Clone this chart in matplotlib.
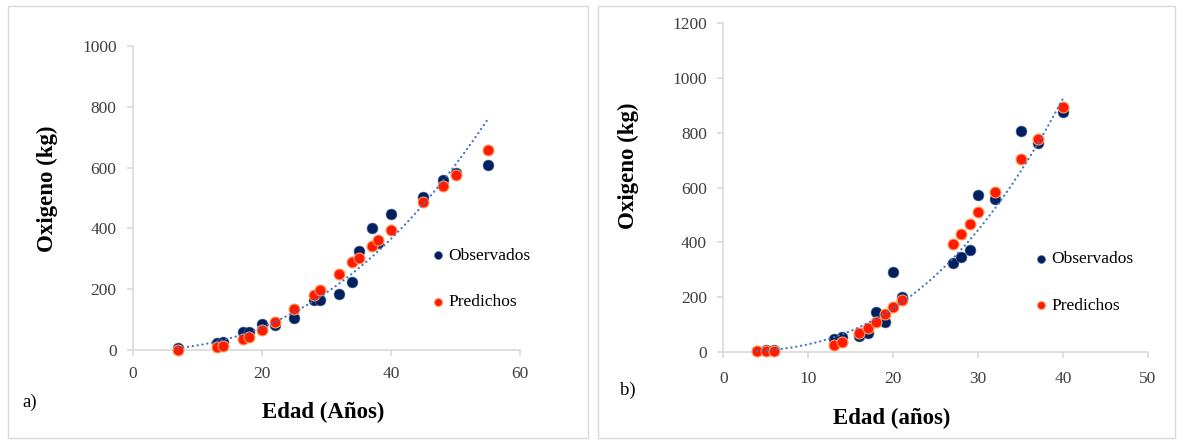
import matplotlib
matplotlib.use("Agg")
import matplotlib.pyplot as plt
import numpy as np
from matplotlib.patches import Rectangle

plt.rcParams['font.family'] = ['Liberation Serif', 'DejaVu Serif']

# Panel a) - edad (anos) vs oxigeno (kg)
edad_a = np.array([7, 13, 14, 17, 18, 20, 22, 25, 28, 29, 32, 34, 35, 37, 38, 40, 45, 48, 50, 55])
obs_a = np.array([8, 22, 27, 60, 60, 85, 82, 106, 165, 165, 185, 225, 327, 400, 351, 448, 502, 560, 582, 608])
pred_a = np.array([0, 11, 14, 35, 44, 66, 91, 134, 181, 198, 250, 289, 302, 343, 362, 395, 487, 541, 577, 658])

# Panel b)
edad_b = np.array([4, 5, 6, 13, 14, 16, 17, 18, 19, 20, 21, 27, 28, 29, 30, 32, 35, 37, 40])
obs_b = np.array([3, 5, 8, 45, 55, 58, 67, 144, 108, 292, 199, 323, 347, 372, 571, 559, 808, 761, 877])
pred_b = np.array([1, 2, 3, 24, 37, 67, 88, 110, 137, 162, 189, 393, 430, 467, 509, 584, 703, 777, 893])

GRAY = '#d9d9d9'
NAVY = '#002060'
RED = '#ff1a00'
TREND = '#4472c4'

fig = plt.figure(figsize=(11.8, 4.42), dpi=100)

# panel frames
for x0, x1 in [(8, 588), (598, 1175)]:
    fig.patches.append(Rectangle((x0 / 1180, 1 - 438 / 442), (x1 - x0) / 1180, 432 / 442,
                                 transform=fig.transFigure, fill=False, ec=GRAY, lw=1))


def panel(rect, x, obs, pred, xmax, xstep, ymax, xlabel, xlab_pos, ylab_pos, leg_pos, pad_x):
    ax = fig.add_axes(rect)
    # power trendline fitted to the observed data
    b, ln_a = np.polyfit(np.log(x), np.log(obs), 1)
    xs = np.linspace(x.min(), x.max(), 200)
    ax.plot(xs, np.exp(ln_a) * xs ** b, color=TREND, lw=1.6,
            linestyle=(0, (0.1, 2.1)), dash_capstyle='round', zorder=4)
    ax.scatter(x, obs, s=62, color=NAVY, edgecolor='#5a6f9a', lw=0.4, label='Observados',
               zorder=2, clip_on=False)
    ax.scatter(x, pred, s=62, color=RED, edgecolor='#ffa060', lw=0.8, label='Predichos',
               zorder=3, clip_on=False)
    ax.set_xlim(0, xmax)
    ax.set_ylim(0, ymax)
    ax.set_xticks(np.arange(0, xmax + 1, xstep))
    ax.set_yticks(np.arange(0, ymax + 1, 200))
    for s in ['top', 'right']:
        ax.spines[s].set_visible(False)
    for s in ['left', 'bottom']:
        ax.spines[s].set_color(GRAY)
        ax.spines[s].set_linewidth(1.2)
    ax.tick_params(axis='both', color=GRAY, length=4.3, width=1.2, labelsize=12.5,
                   labelcolor='#404040')
    ax.tick_params(axis='y', pad=7.5)
    ax.tick_params(axis='x', pad=pad_x)
    ax.set_xlabel(xlabel, fontsize=16.5, fontweight='bold', va='center')
    ax.set_ylabel('Oxigeno (kg)', fontsize=16.5, fontweight='bold', va='center')
    ax.xaxis.set_label_coords(*xlab_pos)
    ax.yaxis.set_label_coords(*ylab_pos)
    ax.legend(loc='center left', bbox_to_anchor=leg_pos, bbox_transform=fig.transFigure,
              frameon=False, fontsize=12.5, markerscale=0.73, handlelength=0.6,
              handletextpad=0.3, labelspacing=1.75, borderpad=0, borderaxespad=0)
    return ax


panel([133 / 1180, 1 - 350 / 442, 387 / 1180, 304 / 442], edad_a, obs_a, pred_a,
      60, 20, 1000, 'Edad (Años)', (0.491, -0.204), (-0.222, 0.53), (433 / 1180, 1 - 279 / 442), 7)
panel([723.3 / 1180, 1 - 351.7 / 442, 424.7 / 1180, 328.4 / 442], edad_b, obs_b, pred_b,
      50, 10, 1200, 'Edad (años)', (0.397, -0.202), (-0.224, 0.565), (1036 / 1180, 1 - 282.5 / 442), 9.5)

fig.text(30 / 1180, 1 - 402 / 442, 'a)', fontsize=13.5, ha='center', va='center')
fig.text(628 / 1180, 1 - 390 / 442, 'b)', fontsize=13.5, ha='center', va='center')

fig.savefig('out.png', dpi=100)
